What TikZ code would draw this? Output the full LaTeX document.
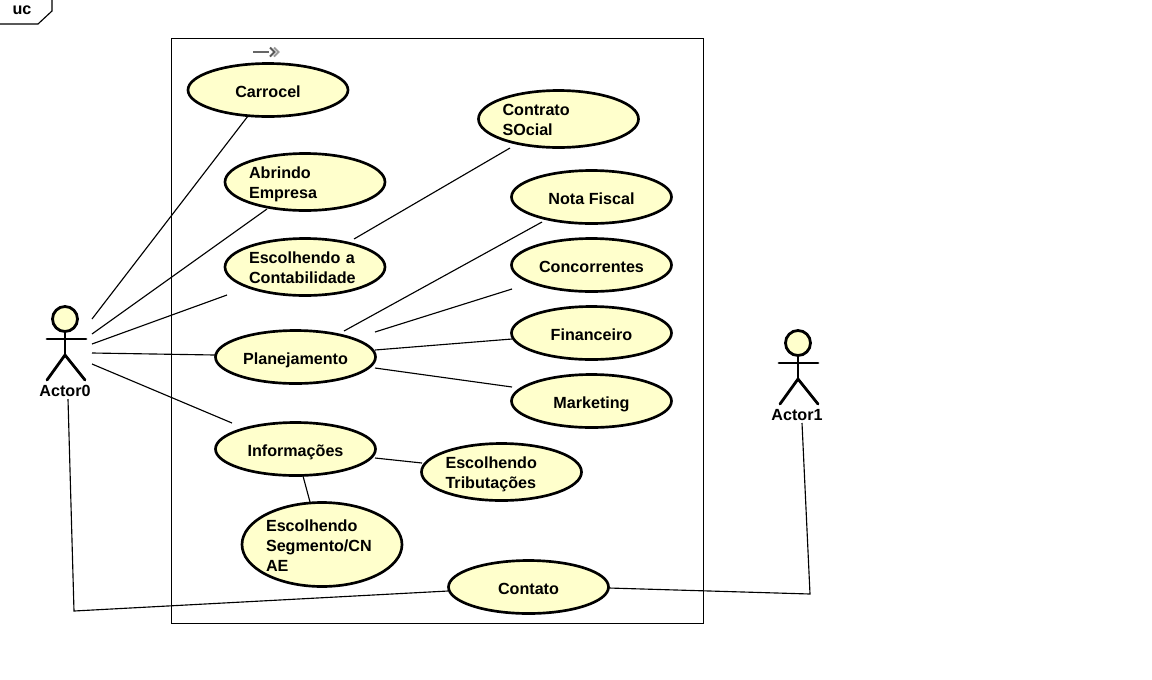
\documentclass[tikz,border=0pt]{standalone}
\usepackage{fontspec}
\setmainfont{Liberation Sans}
\usetikzlibrary{shapes.geometric}
\definecolor{ucfill}{HTML}{FFFFCC}
\tikzset{
  uc/.style={ellipse,draw=black,fill=ucfill,line width=2pt,inner sep=0pt,outer sep=0pt,minimum width=120pt,minimum height=39.75pt,
    font=\bfseries\fontsize{12.1pt}{15pt}\selectfont,text height=10.5pt,text depth=0pt},
  ucl/.style={uc,minimum height=42.75pt,text width=84pt,align=left,text height=8pt,text depth=14pt},
  ucm/.style={ucl,minimum height=63pt,text height=8pt,text depth=28.25pt},
  conn/.style={line width=0.85pt,draw=black},
  stick/.style={line width=2.1pt,draw=black,line cap=round},
  head/.style={circle,draw=black,fill=ucfill,line width=2.1pt,minimum size=18.75pt,inner sep=0pt},
  actorname/.style={font=\bfseries\fontsize{12.1pt}{15pt}\selectfont,inner sep=0pt},
  sysbox/.style={draw=black,line width=0.75pt},
  frametag/.style={draw=black,line width=0.85pt,fill=white},
}
\begin{document}
\begin{tikzpicture}[x=0.75pt,y=-0.75pt]
\useasboundingbox (0,0) rectangle (1152,679);
% frame tag
\draw[frametag] (-3,24) -- (38,24) -- (52,11) -- (52,-3);
\node[actorname] (tag) at (22,10) {uc};
% system
\draw[sysbox] (171.5,38.6) rectangle (703,623.3);
% stereotype icon
\draw[line width=1.9pt,draw=black!60] (253,52) -- (269,52);
\draw[line width=1.5pt,draw=black!65] (270,47.5) -- (274.5,52) -- (270,56.5);
\draw[line width=1.5pt,draw=black!40] (274,47.5) -- (278.5,52) -- (274,56.5);
% use cases
\node[uc] (carrocel) at (268,90) {Carrocel};
\node[ucl] (abrindo) at (305,182) {Abrindo\\Empresa};
\node[ucl] (contab) at (305,267) {Escolhendo a\\Contabilidade};
\node[ucl] (contrato) at (558.5,119) {Contrato\\SOcial};
\node[uc] (nota) at (591.5,197) {Nota Fiscal};
\node[uc] (conc) at (591.5,265) {Concorrentes};
\node[uc] (fin) at (591.5,333) {Financeiro};
\node[uc] (mkt) at (591.5,401) {Marketing};
\node[uc] (plan) at (295.5,357) {Planejamento};
\node[uc] (info) at (295.5,449) {Informações};
\node[ucl] (trib) at (501.5,472) {Escolhendo\\Tributações};
\node[ucm] (seg) at (322,544.5) {Escolhendo\\Segmento/CN\\AE};
\node[uc] (contato) at (528.5,587) {Contato};
% actor 0
\node[head] (headA) at (65,319) {};
\draw[stick] (headA.south) -- (65,355) coordinate (hipA);
\draw[stick] (47,339) -- (86,339);
\draw[stick] (47,380) -- (hipA) -- (85,380);
\node[actorname] (actorA) at (65,391) {Actor0};
% actor 1
\node[head] (headB) at (798,343) {};
\draw[stick] (headB.south) -- (798,379) coordinate (hipB);
\draw[stick] (779,363) -- (818,363);
\draw[stick] (780,404) -- (hipB) -- (818,404);
\node[actorname] (actorB) at (797,415) {Actor1};
% free ends
\coordinate (a1) at (92,319); \coordinate (c1) at (248,116);
\coordinate (a2) at (92,334); \coordinate (c2) at (267,209);
\coordinate (a3) at (92,344); \coordinate (c3) at (227,295);
\coordinate (a4) at (92,353); \coordinate (c4) at (215,355);
\coordinate (a5) at (92,364); \coordinate (c5) at (232,423);
\coordinate (b1) at (354,239); \coordinate (c6) at (510,148);
\coordinate (p1) at (344,331); \coordinate (c7) at (542,222);
\coordinate (p2) at (375,332); \coordinate (c8) at (512,289);
\coordinate (p3) at (375,350); \coordinate (c9) at (512,339);
\coordinate (p4) at (375,368); \coordinate (c10) at (512,387);
\coordinate (i1) at (375,458); \coordinate (c11) at (422,463);
\coordinate (i2) at (303,476); \coordinate (c12) at (310,502);
\coordinate (a6) at (68,399); \coordinate (k1) at (74,611); \coordinate (c13) at (448,591);
\coordinate (c14) at (609,588); \coordinate (k2) at (810,594); \coordinate (a7) at (802,423);
% connectors
\draw[conn] (a1) -- (c1);
\draw[conn] (a2) -- (c2);
\draw[conn] (a3) -- (c3);
\draw[conn] (a4) -- (c4);
\draw[conn] (a5) -- (c5);
\draw[conn] (b1) -- (c6);
\draw[conn] (p1) -- (c7);
\draw[conn] (p2) -- (c8);
\draw[conn] (p3) -- (c9);
\draw[conn] (p4) -- (c10);
\draw[conn] (i1) -- (c11);
\draw[conn] (i2) -- (c12);
\draw[conn] (a6) -- (k1) -- (c13);
\draw[conn] (c14) -- (k2) -- (a7);
\end{tikzpicture}
\end{document}
